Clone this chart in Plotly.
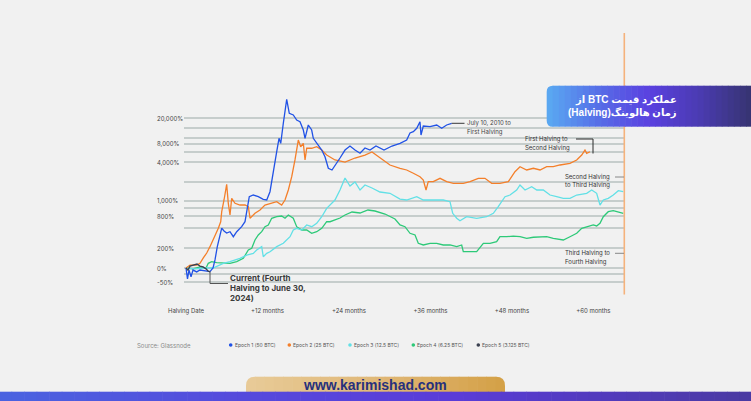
import numpy as np
import plotly.graph_objects as go

# ---------------- data (months since halving, % return since halving) ----------------
epoch1_months = [0.0, 0.22, 0.44, 0.74, 1.03, 1.58, 2.06, 2.8, 3.53, 3.98, 4.27, 4.61, 5.01, 5.26, 5.6, 5.99,
                 6.48, 6.97, 7.47, 8.2, 8.69, 8.94, 9.32, 9.91, 10.65, 11.38, 11.89, 12.37, 12.86, 13.36, 13.7,
                 13.95, 14.33, 14.58, 14.83, 15.21, 15.8, 16.3, 16.79, 17.28, 17.53, 18.01, 18.51, 18.75, 19.25,
                 19.99, 20.47, 20.96, 21.5, 21.94, 22.68, 23.42, 24.15, 24.89, 25.63, 26.36, 27.1, 27.98, 29.16,
                 30.34, 31.52, 32.5, 32.99, 33.48, 33.98, 34.46, 34.61, 34.95, 35.94, 36.92, 37.66, 38.39, 39.13]
epoch1_pct = [0, -32, -7, -27, -7, -13, -7, -10, -12, 0, 33, 113, 245, 312, 271, 245,
              262, 203, 262, 332, 415, 635, 1151, 1227, 1151, 1040, 1012, 1392, 3120, 6050, 9790,
              8180, 16730, 26880, 39290, 23890, 22490, 18820, 17720, 13170, 9790, 15750, 13170, 9790, 8180,
              6430, 5050, 3320, 3120, 3740, 4820, 6430, 7430, 6430, 5720, 6920, 6430, 7430, 6430,
              7430, 8180, 9210, 11840, 12410, 14000, 17720, 11020, 15210, 14830, 15750, 14000, 15750, 16730]

epoch2_months = [0, 0.59, 1.58, 2.06, 2.55, 3.05, 3.53, 4.02, 4.52, 4.76, 5.11, 5.26, 5.6, 5.99, 6.23, 6.48,
                 6.73, 7.22, 7.95, 8.69, 9.18, 9.43, 10.16, 10.9, 11.63, 12.37, 13.36, 14.09, 14.58, 15.07,
                 15.57, 16.05, 16.3, 16.54, 16.89, 17.28, 17.53, 17.78, 18.51, 19.25, 19.99, 20.72, 21.94,
                 23.42, 24.89, 26.36, 27.39, 28.57, 30.04, 31.52, 32.5, 33.48, 34.46, 34.95, 35.35, 35.68,
                 36.42, 37.41, 38.39, 39.37, 40.84, 41.83, 43.05, 44.03, 45.02, 46.24, 47.47, 48.45, 49.19,
                 50.18, 51.16, 52.14, 53.12, 54.09, 55.08, 56.55, 57.54, 58.28, 58.76, 59.01, 59.5]
epoch2_pct = [0, 11, 11, 18, 43, 70, 113, 170, 245, 308, 415, 635, 1012, 1841, 889, 554,
              1081, 889, 831, 831, 777, 482, 594, 680, 831, 889, 947, 831, 1012, 1485,
              2441, 4490, 6850, 9210, 7240, 8180, 4490, 6850, 6850, 7240, 6430, 5370, 4490,
              4170, 4820, 5370, 5990, 4820, 3740, 3320, 3120, 2765, 2441, 2159, 1485, 2028,
              2028, 2299, 2028, 1910, 1910, 2028, 2299, 2299, 1910, 1910, 2028, 2934, 3516,
              3120, 3320, 3120, 3516, 3516, 3744, 3981, 4490, 5370, 6430, 5720, 6050]

epoch3_months = [0, 1.33, 2.8, 3.98, 5.49, 6.48, 7.95, 8.94, 9.91, 10.41, 11.15, 11.38, 11.89, 12.37, 13.36,
                 14.33, 15.32, 15.8, 16.3, 17.04, 17.78, 18.51, 19.25, 19.99, 20.72, 21.21, 21.94, 22.68,
                 23.42, 24.15, 24.89, 25.63, 26.36, 27.39, 28.57, 30.04, 31.52, 32.5, 33.48, 33.98, 34.95,
                 36.42, 37.89, 38.88, 39.28, 39.87, 40.35, 41.33, 42.81, 44.28, 45.26, 45.99, 46.98, 47.72,
                 48.7, 49.19, 49.93, 50.91, 51.66, 52.62, 53.61, 54.59, 55.57, 56.55, 57.54, 59.01, 59.75,
                 60.48, 60.97, 61.46, 62.19, 62.93, 63.67, 64.4]
epoch3_pct = [0, -3, 0, 0, 18, 25, 41, 58, 68, 89, 113, 49, 68, 78, 113,
              140, 203, 284, 308, 284, 359, 332, 387, 515, 728, 831, 1012, 1485,
              2326, 1726, 2004, 1485, 1792, 1601, 1376, 1310, 1050, 1012, 1081, 1151, 1012,
              1012, 1012, 947, 594, 482, 434, 515, 482, 515, 594, 777, 1151, 1227,
              1485, 1792, 1485, 1682, 1485, 1485, 1227, 1151, 1081, 1081, 1227, 1310, 1485,
              1310, 831, 1012, 1081, 1227, 1446, 1392]

epoch4_months = [0, 1.03, 2.06, 2.95, 3.28, 3.78, 4.52, 5.49, 6.48, 7.47, 8.44, 9.18, 9.68, 10.16, 10.65,
                 11.15, 11.63, 12.12, 12.62, 13.36, 14.09, 14.58, 15.07, 15.8, 16.3, 17.04, 17.78, 18.51,
                 19.25, 19.99, 20.72, 21.21, 22.68, 23.42, 24.45, 25.63, 26.8, 27.83, 29.31, 30.78, 31.52,
                 32.25, 32.99, 33.73, 34.21, 34.95, 35.94, 36.92, 37.89, 38.88, 39.87, 40.6, 40.84, 41.83,
                 42.81, 43.79, 44.77, 45.75, 46.24, 47.23, 48.2, 49.19, 50.18, 51.16, 52.14, 53.12, 54.09,
                 55.57, 56.55, 57.54, 58.28, 59.01, 59.98, 60.48, 60.97, 61.46, 62.19, 62.93, 63.67, 64.4]
epoch4_pct = [0, -3, 4, 0, 18, 25, 21, 18, 18, 25, 41, 89, 101, 170, 222,
              262, 332, 359, 482, 515, 531, 482, 554, 482, 332, 284, 284, 242,
              262, 308, 415, 415, 488, 554, 627, 602, 680, 653, 577, 467, 359,
              332, 242, 222, 140, 126, 140, 140, 126, 126, 113, 126, 78, 78,
              78, 140, 140, 154, 203, 203, 210, 203, 186, 197, 197, 203, 186,
              170, 203, 242, 308, 332, 359, 343, 387, 515, 635, 661, 635, 594]

epoch5_months = [0, 0.29, 0.59, 1.03, 1.62, 2.06, 2.5, 2.95, 3.24, 3.53]
epoch5_pct = [0, -7, 7, 11, 15, 7, 4, -3, -10, -13]

series_names = ["Epoch 1 (50 BTC)", "Epoch 2 (25 BTC)", "Epoch 3 (12.5 BTC)",
                "Epoch 4 (6.25 BTC)", "Epoch 5 (3.125 BTC)"]
series_colors = ["#2152e6", "#f47f2a", "#62e0e6", "#2dc978", "#3b4050"]

# y gridline levels (multiple of halving price) and labelled ticks
grid_levels = [0.4023, 0.609, 0.817, 1.0, 2.03, 4.08, 6.20, 8.38, 10.74, 20.7, 42.7, 60.9, 80.9,
               101.8, 142.5, 203, 397]
ytick_vals = [203, 80.9, 42.7, 10.74, 6.20, 2.03, 1.0, 0.609]
ytick_text = ["20,000%", "8,000%", "4,000%", "1,000%", "800%", "200%", "0%", "-50%"]

xtick_vals = [0, 12, 24, 36, 48, 60]
xtick_text = ["Halving Date", "+12 months", "+24 months", "+36 months", "+48 months", "+60 months"]

# ---------------- layout geometry ----------------
W, H = 751, 401
L, R, T, B = 184, 624, 99, 294
FONT = "Inter, Lato, sans-serif"


def xp(px):
    return (px - L) / (R - L)


def yp(py):
    return (B - py) / (B - T)


def mix(c1, c2, t):
    a = [int(c1[i:i + 2], 16) for i in (1, 3, 5)]
    b = [int(c2[i:i + 2], 16) for i in (1, 3, 5)]
    return "#%02x%02x%02x" % tuple(round(a[k] + (b[k] - a[k]) * t) for k in range(3))


def grad_color(stops, t):
    for (p0, c0), (p1, c1) in zip(stops[:-1], stops[1:]):
        if t <= p1:
            return mix(c0, c1, (t - p0) / (p1 - p0) if p1 > p0 else 0)
    return stops[-1][1]


def P(x, y):
    return "%.5f,%.5f" % (xp(x), yp(y))


def gradient_box(x0, x1, y0, y1, stops, n, rtl=0, rbl=0, rtr=0, rbr=0, layer="above"):
    shapes = []
    w = (x1 - x0) / n
    for i in range(n):
        sx0 = x0 + i * w
        sx1 = x0 + (i + 1) * w
        col = grad_color(stops, (i + 0.5) / n)
        ex = 0.6 if i < n - 1 else 0
        if i == 0 and (rtl or rbl):
            path = ("M %s L %s L %s L %s Q %s %s L %s Q %s %s Z" % (
                P(x0 + rtl, y0), P(sx1 + ex, y0), P(sx1 + ex, y1), P(x0 + rbl, y1),
                P(x0, y1), P(x0, y1 - rbl), P(x0, y0 + rtl), P(x0, y0), P(x0 + rtl, y0)))
            shapes.append(dict(type="path", path=path, xref="paper", yref="paper",
                               fillcolor=col, line=dict(width=0), layer=layer))
        elif i == n - 1 and (rtr or rbr):
            path = ("M %s L %s Q %s %s L %s Q %s %s L %s Z" % (
                P(sx0, y0), P(x1 - rtr, y0), P(x1, y0), P(x1, y0 + rtr), P(x1, y1 - rbr),
                P(x1, y1), P(x1 - rbr, y1), P(sx0, y1)))
            shapes.append(dict(type="path", path=path, xref="paper", yref="paper",
                               fillcolor=col, line=dict(width=0), layer=layer))
        else:
            shapes.append(dict(type="rect", xref="paper", yref="paper",
                               x0=xp(sx0), x1=xp(sx1 + ex), y0=yp(y1), y1=yp(y0),
                               fillcolor=col, line=dict(width=0), layer=layer))
    return shapes


def seg(xa, ya, xb, yb, color="#444444", width=1):
    return dict(type="line", xref="paper", yref="paper", x0=xp(xa), y0=yp(ya), x1=xp(xb), y1=yp(yb),
                line=dict(color=color, width=width), layer="above")


def note(x, y, text, size=6, color="#3a3a3a", xanchor="left", family=FONT, yref="paper", ycoord=None):
    return dict(x=xp(x), y=yp(y) if ycoord is None else ycoord, xref="paper", yref=yref,
                text=text, showarrow=False, xanchor=xanchor, yanchor="middle",
                font=dict(size=size, color=color, family=family), borderpad=0, borderwidth=0)


# ---------------- figure ----------------
fig = go.Figure()
series = [
    (epoch4_months, epoch4_pct, 3),
    (epoch3_months, epoch3_pct, 2),
    (epoch2_months, epoch2_pct, 1),
    (epoch1_months, epoch1_pct, 0),
    (epoch5_months, epoch5_pct, 4),
]
for months, pct, k in series:
    fig.add_trace(go.Scatter(
        x=months, y=[1 + p / 100.0 for p in pct], mode="lines", name=series_names[k],
        line=dict(color=series_colors[k], width=1.3), showlegend=False, hoverinfo="skip"))

shapes = []
# orange vertical marker line at right edge
shapes.append(dict(type="line", xref="paper", yref="paper", x0=xp(624.3), x1=xp(624.3),
                   y0=yp(294.5), y1=yp(33), line=dict(color="#f5b27c", width=1.6), layer="above"))
# connectors
shapes.append(seg(451.7, 123.3, 464.5, 123.3, "#3a3a3a"))
shapes.append(seg(576, 139, 593, 139, "#2a2a2a"))
shapes.append(seg(593, 139, 593, 153.5, "#2a2a2a"))
shapes.append(seg(615, 177, 624, 177, "#888888"))
shapes.append(seg(615, 253.3, 624, 253.3, "#888888"))
shapes.append(seg(210, 271.5, 210, 283.5, "#555555"))
shapes.append(seg(210, 283.5, 228, 283.5, "#555555"))

# title box (gradient, rounded left corners)
shapes += gradient_box(546.7, 752, 85.7, 126.7,
                       [(0, "#5aaaf2"), (0.28, "#5668e6"), (0.5, "#5a40e0"), (0.75, "#4a3bb0"), (1, "#363470")],
                       34, rtl=6, rbl=6)
# bottom gold pill and blue bar
shapes += gradient_box(246, 505, 376.7, 396, [(0, "#e8cb98"), (0.5, "#e0b878"), (1, "#d4a046")],
                       28, rtl=9, rtr=9)
shapes += gradient_box(-1, 752, 391.7, 402,
                       [(0, "#4a63e0"), (0.35, "#5648dc"), (0.6, "#5a3cd8"), (1, "#4a3aa2")], 60)

# legend dots
legend_x = [230.7, 289.3, 350.0, 413.3, 478.3]
for cx, col in zip(legend_x, series_colors):
    shapes.append(dict(type="circle", xref="paper", yref="paper", x0=xp(cx - 1.8), x1=xp(cx + 1.8),
                       y0=yp(345 + 1.8), y1=yp(345 - 1.8), fillcolor=col, line=dict(width=0),
                       layer="above"))

ann = []
# y tick labels (left aligned)
for v, t in zip(ytick_vals, ytick_text):
    ann.append(note(157, 0, t, size=6, color="#444444", yref="y", ycoord=np.log10(v)))

# series annotations
ann.append(note(466.5, 123.3, "July 10, 2010 to", color="#444444"))
ann.append(note(466.5, 132.3, "First Halving", color="#444444"))
ann.append(note(525, 139, "First Halving to", color="#333333"))
ann.append(note(525, 147.6, "Second Halving", color="#333333"))
ann.append(note(565, 176.7, "Second Halving", color="#333333"))
ann.append(note(565, 184.8, "to Third Halving", color="#333333"))
ann.append(note(565, 253.3, "Third Halving to", color="#333333"))
ann.append(note(565, 262, "Fourth Halving", color="#333333"))
ann.append(note(230, 277.7, "<b>Current (Fourth</b>", size=8, color="#3a3a3a"))
ann.append(note(230, 288.0, "<b>Halving to June 30,</b>", size=8, color="#3a3a3a"))
ann.append(note(230, 297.6, "<b>2024)</b>", size=8, color="#3a3a3a"))

# source + legend
ann.append(note(137.3, 345, "Source: Glassnode", size=6, color="#8a8a8a"))
for cx, name in zip(legend_x, series_names):
    ann.append(note(cx + 4, 345, name, size=5, color="#555555"))

# title box text
TFONT = "Liberation Sans, DejaVu Sans, sans-serif"
ann.append(note(677, 100, "<b>\u202bعملکرد قیمت BTC از\u202c</b>", size=10, color="#ffffff",
                xanchor="right", family=TFONT))
ann.append(note(677, 113.3, "<b>\u202bزمان هالوینگ(Halving)\u202c</b>", size=10, color="#ffffff",
                xanchor="right", family=TFONT))

# website
ann.append(dict(x=xp(374.5), y=yp(384.6), xref="paper", yref="paper", text="<b>www.karimishad.com</b>",
                showarrow=False, xanchor="center", yanchor="middle", borderpad=0, borderwidth=0,
                font=dict(size=14, color="#27307c", family="Liberation Sans, Arial, sans-serif")))

fig.update_layout(
    width=W, height=H,
    margin=dict(l=L, r=W - R, t=T, b=H - B),
    paper_bgcolor="#f1f1f1", plot_bgcolor="#f1f1f1",
    shapes=shapes, annotations=ann, showlegend=False,
    xaxis=dict(range=[(L - 186) / 6.79, (R - 186) / 6.79], tickmode="array", tickvals=xtick_vals,
               ticktext=xtick_text, showgrid=False, zeroline=False, showline=False, ticks="",
               ticklabelstandoff=12, tickfont=dict(size=6, color="#444444", family=FONT)),
    yaxis=dict(type="log", range=[-0.4, 2.6], tickmode="array", tickvals=grid_levels,
               showticklabels=False, showgrid=True, gridcolor="#c6cdcc", gridwidth=1.6,
               zeroline=False, showline=False, ticks=""),
)

fig.write_html("out.html")
